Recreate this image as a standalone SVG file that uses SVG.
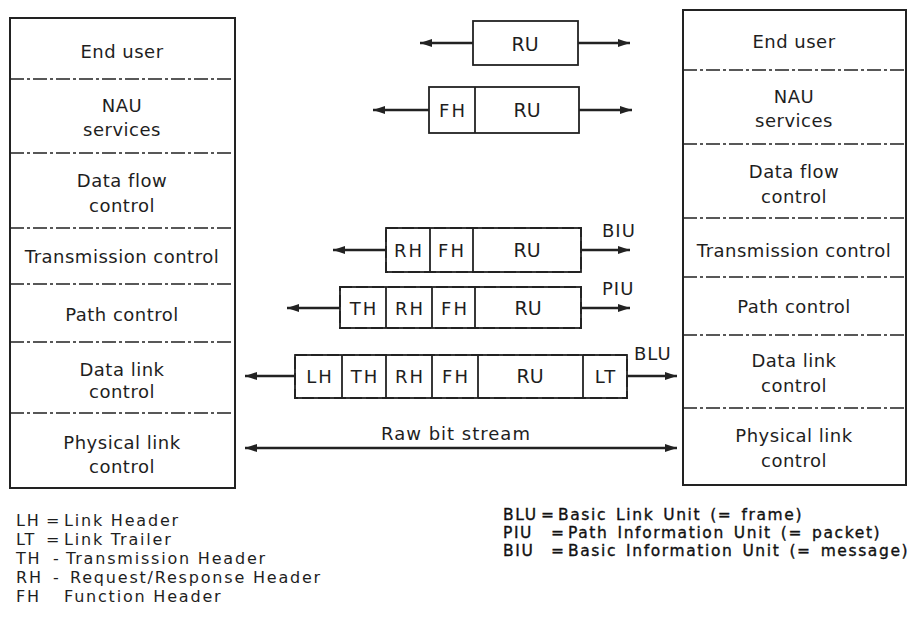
<svg xmlns="http://www.w3.org/2000/svg" width="918" height="629" viewBox="0 0 918 629">
<defs>
<marker id="ah" markerUnits="userSpaceOnUse" markerWidth="13" markerHeight="9" refX="12" refY="4" orient="auto-start-reverse">
<path d="M0,0 L12,4 L0,8 z" fill="#222"/>
</marker>
<style>
.frame{fill:#fff;stroke:#222;stroke-width:2}
.div{stroke:#222;stroke-width:1.6;stroke-dasharray:14 3 3 3;fill:none}
.st{font-family:"DejaVu Sans",sans-serif;font-size:18px;fill:#1e1e1e;text-anchor:middle;letter-spacing:0.5px}
.pdu{fill:#fff;stroke:#222;stroke-width:1.8}
.pdud{fill:none;stroke:#222;stroke-width:1.8;stroke-dasharray:12 4}
.vd{stroke:#222;stroke-width:1.8}
.cell{font-family:"DejaVu Sans",sans-serif;font-size:18px;fill:#1e1e1e;text-anchor:middle;letter-spacing:2px}
.ru{font-family:"DejaVu Sans",sans-serif;font-size:19px;fill:#1e1e1e;text-anchor:middle}
.lab{font-family:"DejaVu Sans",sans-serif;font-size:18px;fill:#1e1e1e;letter-spacing:1px}
.conn{stroke:#222;stroke-width:2.6;fill:none;marker-end:url(#ah)}
.leg{font-family:"DejaVu Sans",sans-serif;font-size:16px;fill:#1e1e1e;letter-spacing:1.8px}
.leg2{font-family:"DejaVu Sans",sans-serif;font-size:15.5px;fill:#111;stroke:#111;stroke-width:0.35;letter-spacing:1.6px;word-spacing:2.5px}
</style>
</defs>
<rect width="918" height="629" fill="#fff"/>

<g id="left-stack">
<rect class="frame" x="10" y="18" width="225" height="470"/>
<line class="div" x1="10" y1="79" x2="235" y2="79"/>
<line class="div" x1="10" y1="153" x2="235" y2="153"/>
<line class="div" x1="10" y1="228" x2="235" y2="228"/>
<line class="div" x1="10" y1="284" x2="235" y2="284"/>
<line class="div" x1="10" y1="342" x2="235" y2="342"/>
<line class="div" x1="10" y1="413" x2="235" y2="413"/>
<text class="st" x="122" y="58">End user</text>
<text class="st" x="122" y="112">NAU</text>
<text class="st" x="122" y="136">services</text>
<text class="st" x="122" y="187">Data flow</text>
<text class="st" x="122" y="212">control</text>
<text class="st" x="122" y="263">Transmission control</text>
<text class="st" x="122" y="321">Path control</text>
<text class="st" x="122" y="376">Data link</text>
<text class="st" x="122" y="398">control</text>
<text class="st" x="122" y="449">Physical link</text>
<text class="st" x="122" y="473">control</text>
</g>

<g id="right-stack">
<rect class="frame" x="683" y="10" width="223" height="475"/>
<line class="div" x1="683" y1="70" x2="906" y2="70"/>
<line class="div" x1="683" y1="144" x2="906" y2="144"/>
<line class="div" x1="683" y1="218" x2="906" y2="218"/>
<line class="div" x1="683" y1="277" x2="906" y2="277"/>
<line class="div" x1="683" y1="335" x2="906" y2="335"/>
<line class="div" x1="683" y1="408" x2="906" y2="408"/>
<text class="st" x="794" y="48">End user</text>
<text class="st" x="794" y="103">NAU</text>
<text class="st" x="794" y="127">services</text>
<text class="st" x="794" y="178">Data flow</text>
<text class="st" x="794" y="203">control</text>
<text class="st" x="794" y="257">Transmission control</text>
<text class="st" x="794" y="313">Path control</text>
<text class="st" x="794" y="367">Data link</text>
<text class="st" x="794" y="392">control</text>
<text class="st" x="794" y="442">Physical link</text>
<text class="st" x="794" y="467">control</text>
</g>

<g id="ru-unit">
<rect class="pdu" x="473" y="21" width="105" height="44"/>
<text class="ru" x="525" y="51">RU</text>
</g>

<g id="fh-unit">
<rect class="pdu" x="429" y="87" width="150" height="46"/>
<line class="vd" x1="475" y1="87" x2="475" y2="133"/>
<text class="cell" x="453" y="117">FH</text>
<text class="ru" x="527" y="117">RU</text>
</g>

<g id="biu-unit">
<rect class="pdu" x="386" y="228" width="195" height="44" stroke="none"/>
<rect class="pdud" x="386" y="228" width="195" height="44"/>
<line class="vd" x1="430" y1="228" x2="430" y2="272"/>
<line class="vd" x1="473" y1="228" x2="473" y2="272"/>
<text class="cell" x="409" y="257">RH</text>
<text class="cell" x="452" y="257">FH</text>
<text class="ru" x="527" y="257">RU</text>
<text class="lab" x="602" y="237">BIU</text>
</g>

<g id="piu-unit">
<rect class="pdu" x="340" y="287" width="241" height="41" stroke="none"/>
<rect class="pdud" x="340" y="287" width="241" height="41"/>
<line class="vd" x1="386" y1="287" x2="386" y2="328"/>
<line class="vd" x1="432" y1="287" x2="432" y2="328"/>
<line class="vd" x1="475" y1="287" x2="475" y2="328"/>
<text class="cell" x="364" y="315">TH</text>
<text class="cell" x="410" y="315">RH</text>
<text class="cell" x="455" y="315">FH</text>
<text class="ru" x="528" y="315">RU</text>
<text class="lab" x="602" y="295">PIU</text>
</g>

<g id="blu-unit">
<rect class="pdu" x="295" y="355" width="332" height="43" stroke="none"/>
<rect class="pdud" x="295" y="355" width="332" height="43"/>
<line class="vd" x1="342" y1="355" x2="342" y2="398"/>
<line class="vd" x1="386" y1="355" x2="386" y2="398"/>
<line class="vd" x1="432" y1="355" x2="432" y2="398"/>
<line class="vd" x1="478" y1="355" x2="478" y2="398"/>
<line class="vd" x1="583" y1="355" x2="583" y2="398"/>
<text class="cell" x="320" y="383">LH</text>
<text class="cell" x="365" y="383">TH</text>
<text class="cell" x="410" y="383">RH</text>
<text class="cell" x="456" y="383">FH</text>
<text class="ru" x="530" y="383">RU</text>
<text class="cell" x="606" y="383">LT</text>
<text class="lab" x="634" y="360">BLU</text>
</g>

<g id="raw-bit-stream">
<text class="lab" x="456" y="440" text-anchor="middle" letter-spacing="0.3">Raw bit stream</text>
</g>

<g id="connectors">
<line class="conn" x1="473" y1="43" x2="420" y2="43"/>
<line class="conn" x1="578" y1="43" x2="630" y2="43"/>
<line class="conn" x1="429" y1="110" x2="373" y2="110"/>
<line class="conn" x1="579" y1="110" x2="632" y2="110"/>
<line class="conn" x1="386" y1="250" x2="333" y2="250"/>
<line class="conn" x1="581" y1="250" x2="630" y2="250"/>
<line class="conn" x1="340" y1="308" x2="287" y2="308"/>
<line class="conn" x1="581" y1="308" x2="630" y2="308"/>
<line class="conn" x1="295" y1="376" x2="245" y2="376"/>
<line class="conn" x1="627" y1="376" x2="677" y2="376"/>
<line class="conn" x1="245" y1="448" x2="677" y2="448" marker-start="url(#ah)"/>
</g>

<g id="legend-left">
<text class="leg" x="16" y="526">LH</text><text class="leg" x="46" y="526">=</text><text class="leg" x="64" y="526">Link Header</text>
<text class="leg" x="16" y="545">LT</text><text class="leg" x="46" y="545">=</text><text class="leg" x="64" y="545">Link Trailer</text>
<text class="leg" x="16" y="564">TH</text><text class="leg" x="53" y="564">-</text><text class="leg" x="66" y="564">Transmission Header</text>
<text class="leg" x="16" y="583">RH</text><text class="leg" x="53" y="583">-</text><text class="leg" x="70" y="583">Request/Response Header</text>
<text class="leg" x="16" y="602">FH</text><text class="leg" x="64" y="602">Function Header</text>
</g>

<g id="legend-right">
<text class="leg2" x="503" y="520">BLU</text><text class="leg2" x="541" y="520">=</text><text class="leg2" x="558" y="520">Basic Link Unit (= frame)</text>
<text class="leg2" x="503" y="538">PIU</text><text class="leg2" x="551" y="538">=</text><text class="leg2" x="568" y="538">Path Information Unit (= packet)</text>
<text class="leg2" x="503" y="556">BIU</text><text class="leg2" x="551" y="556">=</text><text class="leg2" x="568" y="556">Basic Information Unit (= message)</text>
</g>
</svg>
